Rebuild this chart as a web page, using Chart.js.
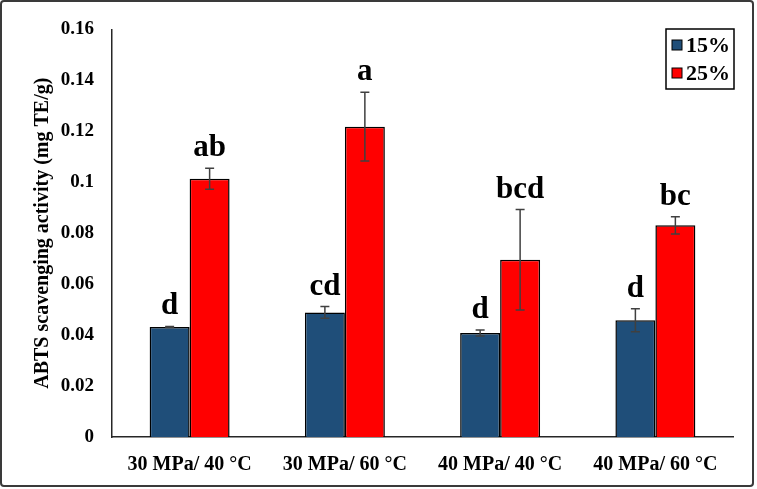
<!DOCTYPE html>
<html>
<head>
<meta charset="utf-8">
<script src="https://cdn.jsdelivr.net/npm/chart.js@4"></script>
<style>
  body { margin: 0; background: #fff; }
  canvas { display: block; }
</style>
</head>
<body>
<canvas id="chart" width="757" height="489"></canvas>
<script>
"use strict";
const categories = ["30 MPa/ 40 °C", "30 MPa/ 60 °C", "40 MPa/ 40 °C", "40 MPa/ 60 °C"];
const values15 = [0.0432, 0.0489, 0.0408, 0.0458];
const values25 = [0.1014, 0.1218, 0.0696, 0.0831];
const errors15 = [0.0002, 0.0023, 0.0012, 0.0045];
const errors25 = [0.0041, 0.0135, 0.0197, 0.0034];
const letters15 = ["d", "cd", "d", "d"];
const letters25 = ["ab", "a", "bcd", "bc"];
const yTicks = [0, 0.02, 0.04, 0.06, 0.08, 0.1, 0.12, 0.14, 0.16];
const seriesNames = ["15%", "25%"];

const serif = "'Liberation Serif', 'Times New Roman', serif";
const errorsBySet = [errors15, errors25];
const lettersBySet = [letters15, letters25];

// frame around the whole figure
const framePlugin = {
  id: "frame",
  afterDraw(chart) {
    const ctx = chart.ctx;
    ctx.save();
    ctx.strokeStyle = "#3a3a3a";
    ctx.lineWidth = 2;
    ctx.beginPath();
    ctx.roundRect(1, 1, 752, 485, 3);
    ctx.stroke();
    ctx.restore();
  }
};

// error bars + significance letters
const errorPlugin = {
  id: "errors",
  afterDatasetsDraw(chart) {
    const ctx = chart.ctx;
    const y = chart.scales.y;
    ctx.save();
    chart.data.datasets.forEach((ds, di) => {
      const meta = chart.getDatasetMeta(di);
      meta.data.forEach((bar, i) => {
        const v = ds.data[i];
        const e = errorsBySet[di][i];
        const top = y.getPixelForValue(v + e);
        const bot = y.getPixelForValue(v - e);
        ctx.strokeStyle = "#404040";
        ctx.lineWidth = 1.5;
        ctx.beginPath();
        ctx.moveTo(bar.x, top);
        ctx.lineTo(bar.x, bot);
        ctx.moveTo(bar.x - 4.5, top);
        ctx.lineTo(bar.x + 4.5, top);
        ctx.moveTo(bar.x - 4.5, bot);
        ctx.lineTo(bar.x + 4.5, bot);
        ctx.stroke();
        ctx.fillStyle = "#000";
        ctx.font = "bold 31px " + serif;
        ctx.textAlign = "center";
        ctx.textBaseline = "alphabetic";
        ctx.fillText(lettersBySet[di][i], bar.x, top - 12);
      });
    });
    ctx.restore();
  }
};

// boxed legend in the top right corner
const legendPlugin = {
  id: "boxLegend",
  afterDraw(chart) {
    const ctx = chart.ctx;
    ctx.save();
    ctx.strokeStyle = "#000";
    ctx.lineWidth = 1.5;
    ctx.strokeRect(666, 29, 68, 60);
    chart.data.datasets.forEach((ds, i) => {
      const cy = 45 + i * 28;
      ctx.fillStyle = ds.backgroundColor;
      ctx.fillRect(672, cy - 5, 10, 10);
      ctx.lineWidth = 1;
      ctx.strokeRect(672, cy - 5, 10, 10);
      ctx.fillStyle = "#000";
      ctx.font = "bold 22px " + serif;
      ctx.textAlign = "left";
      ctx.textBaseline = "middle";
      ctx.fillText(seriesNames[i], 686, cy + 1);
    });
    ctx.restore();
  }
};

new Chart(document.getElementById("chart").getContext("2d"), {
  type: "bar",
  data: {
    labels: categories,
    datasets: [
      {
        label: seriesNames[0],
        data: values15,
        backgroundColor: "#1F4E79",
        borderColor: "#000",
        borderWidth: 1.5,
        categoryPercentage: 0.515,
        barPercentage: 1
      },
      {
        label: seriesNames[1],
        data: values25,
        backgroundColor: "#FF0000",
        borderColor: "#000",
        borderWidth: 1.5,
        categoryPercentage: 0.515,
        barPercentage: 1
      }
    ]
  },
  options: {
    responsive: false,
    animation: false,
    layout: { padding: { left: 0, right: 24, top: 25, bottom: 0 } },
    plugins: {
      legend: { display: false },
      tooltip: { enabled: false }
    },
    scales: {
      x: {
        grid: { display: false, drawTicks: false },
        border: { display: true, color: "#262626", width: 1.5 },
        ticks: {
          color: "#000",
          padding: 16,
          maxRotation: 0,
          font: { family: serif, size: 20, weight: "bold" }
        },
        afterFit(scale) { scale.height = 52; }
      },
      y: {
        min: 0,
        max: 0.16,
        grid: { display: false, drawTicks: false },
        border: { display: true, color: "#262626", width: 1.5 },
        afterBuildTicks(scale) {
          scale.ticks = yTicks.map((v) => ({ value: v }));
        },
        ticks: {
          color: "#000",
          padding: 18,
          font: { family: serif, size: 19, weight: "bold" },
          callback: (v) => String(+v.toFixed(2))
        },
        title: {
          display: true,
          text: "ABTS scavenging activity (mg TE/g)",
          color: "#000",
          font: { family: serif, size: 20, weight: "bold" },
          padding: { top: 31, bottom: 0 }
        },
        afterFit(scale) { scale.width = 112; }
      }
    }
  },
  plugins: [framePlugin, errorPlugin, legendPlugin]
});
</script>
</body>
</html>
